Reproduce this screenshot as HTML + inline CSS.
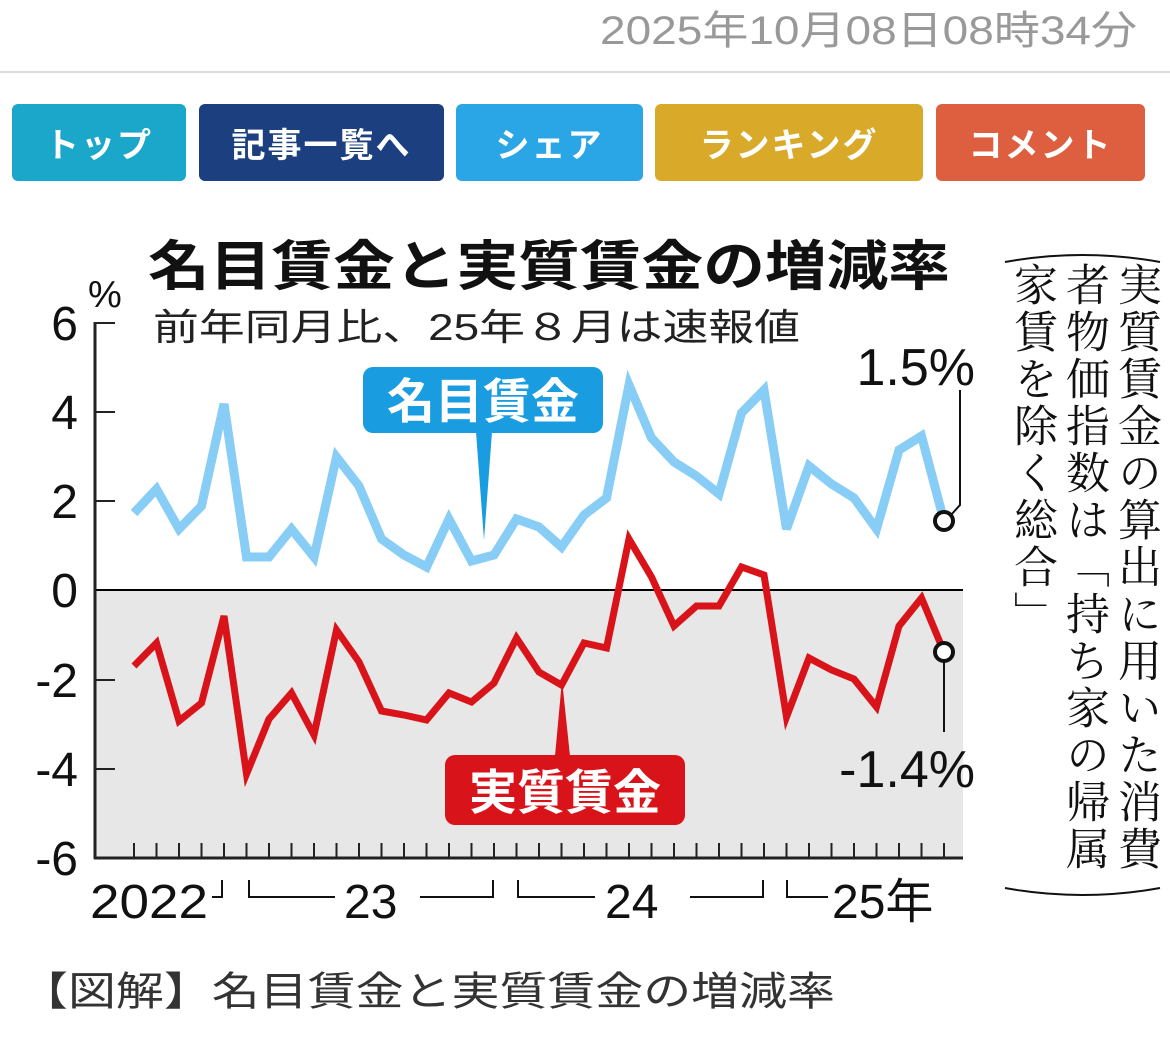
<!DOCTYPE html>
<html><head><meta charset="utf-8"><style>
body{margin:0;width:1170px;height:1052px;background:#fff;overflow:hidden;position:relative;font-family:"Liberation Sans","Noto Sans CJK JP",sans-serif}
.btn{position:absolute;top:104px;height:77px;border-radius:6px;color:#fff;font-weight:bold;font-size:34px;display:flex;align-items:center;justify-content:center;letter-spacing:2px}
.vt{position:absolute;top:262px;writing-mode:vertical-rl;font-family:"Liberation Serif","Noto Serif CJK SC",serif;font-size:44px;line-height:50px;letter-spacing:3px;color:#111}
</style></head><body>
<svg width="1170" height="1052" style="position:absolute;left:0;top:0" xmlns="http://www.w3.org/2000/svg">
<text x="600" y="44" font-size="40" fill="#999" textLength="537" lengthAdjust="spacingAndGlyphs">2025年10月08日08時34分</text>
<text x="20" y="1005" font-size="40" fill="#333" textLength="815" lengthAdjust="spacingAndGlyphs">【図解】名目賃金と実質賃金の増減率</text>
</svg>
<div style="position:absolute;left:0;top:71px;width:1170px;height:2px;background:#ddd"></div>
<div class="btn" style="left:12px;width:174px;background:#1aa7c9">トップ</div>
<div class="btn" style="left:199px;width:245px;background:#1b3f7f">記事一覧へ</div>
<div class="btn" style="left:456px;width:187px;background:#2aa5e6">シェア</div>
<div class="btn" style="left:655px;width:268px;background:#d9a92a">ランキング</div>
<div class="btn" style="left:936px;width:209px;background:#de5f40">コメント</div>

<svg width="1170" height="1052" style="position:absolute;left:0;top:0" xmlns="http://www.w3.org/2000/svg">
<rect x="95" y="590" width="868" height="268" fill="#e7e7e7"/>
<line x1="95" y1="590" x2="963" y2="590" stroke="#000" stroke-width="2"/>
<line x1="95" y1="322" x2="95" y2="859" stroke="#222" stroke-width="3"/>
<line x1="94" y1="858" x2="963" y2="858" stroke="#222" stroke-width="3"/>
<g stroke="#222" stroke-width="2">
<line x1="95" y1="323" x2="115" y2="323"/><line x1="95" y1="412" x2="115" y2="412"/><line x1="95" y1="501" x2="115" y2="501"/><line x1="95" y1="680" x2="115" y2="680"/><line x1="95" y1="769" x2="115" y2="769"/>
</g>
<g id="ticks" stroke="#222" stroke-width="2"></g>
<g font-size="48" fill="#111" text-anchor="end">
<text x="78" y="340">6</text><text x="78" y="429">4</text><text x="78" y="518">2</text><text x="78" y="607">0</text><text x="78" y="697">-2</text><text x="78" y="786">-4</text><text x="78" y="875">-6</text>
</g>
<text x="88" y="307" font-size="38" fill="#111">%</text>
<text x="148" y="285" font-size="54" font-weight="bold" fill="#111" textLength="802" lengthAdjust="spacingAndGlyphs">名目賃金と実質賃金の増減率</text>
<text x="153" y="340" font-size="37" fill="#222" textLength="647" lengthAdjust="spacingAndGlyphs">前年同月比、25年８月は速報値</text>
<polyline id="blue" fill="none" stroke="#87cdf5" stroke-width="9" stroke-linejoin="miter"/>
<polyline id="red" fill="none" stroke="#d8141a" stroke-width="7" stroke-linejoin="miter"/>
<rect x="363" y="367" width="240" height="66" rx="10" fill="#1a9ce0"/>
<polygon points="476,432 492,432 484,540" fill="#1a9ce0"/>
<text x="483" y="418" font-size="48" font-weight="bold" fill="#fff" text-anchor="middle">名目賃金</text>
<rect x="445" y="755" width="240" height="70" rx="10" fill="#d8141a"/>
<polygon points="555,756 570,756 562,680" fill="#d8141a"/>
<text x="565" y="809" font-size="48" font-weight="bold" fill="#fff" text-anchor="middle">実質賃金</text>
<text x="975" y="385" font-size="52" fill="#111" text-anchor="end">1.5%</text>
<text x="975" y="787" font-size="52" fill="#111" text-anchor="end">-1.4%</text>
<polyline points="960,390 960,505 950,516" fill="none" stroke="#111" stroke-width="2"/>
<line x1="944" y1="662" x2="944" y2="732" stroke="#111" stroke-width="2"/>
<circle cx="944" cy="521" r="9" fill="#fff" stroke="#111" stroke-width="4"/>
<circle cx="944" cy="652" r="9" fill="#fff" stroke="#111" stroke-width="4"/>
<g font-size="48" fill="#111">
<text x="90" y="918" textLength="118" lengthAdjust="spacingAndGlyphs">2022</text>
<text x="344" y="918">23</text>
<text x="605" y="918">24</text>
<text x="832" y="918">25年</text>
</g>
<g fill="none" stroke="#111" stroke-width="2">
<polyline points="222,880 222,897 212,897"/>
<polyline points="249,880 249,897 335,897"/>
<polyline points="420,897 493,897 493,880"/>
<polyline points="518,880 518,897 595,897"/>
<polyline points="690,897 763,897 763,880"/>
<polyline points="787,880 787,897 828,897"/>
<path d="M1005,262 Q1082,248 1160,262"/>
<path d="M1005,888 Q1082,902 1160,888"/>
</g>
</svg>
<div class="vt" style="left:1110px">実質賃金の算出に用いた消費</div>
<div class="vt" style="left:1058px">者物価指数は「持ち家の帰属</div>
<div class="vt" style="left:1006px">家賃を除く総合」</div>
<script>
var b=[513,489,529,506,404,557,557,529,557,457,486,539,555,567,519,561,555,519,527,547,515,498,385,438,462,476,494,413,390,529,466,484,498,529,450,436,521];
var r=[666,643,721,703,616,774,719,693,735,630,662,711,715,720,693,702,683,638,672,685,643,648,539,577,626,606,606,567,575,717,658,670,679,707,626,598,652];
function pts(a){return a.map(function(y,i){return (134+22.5*i).toFixed(1)+","+y}).join(" ")}
document.getElementById("blue").setAttribute("points",pts(b));
document.getElementById("red").setAttribute("points",pts(r));
var t="";for(var i=0;i<37;i++){var x=134+22.5*i;t+='<line x1="'+x+'" y1="843" x2="'+x+'" y2="858"/>';}
document.getElementById("ticks").innerHTML=t;
</script>
</body></html>
